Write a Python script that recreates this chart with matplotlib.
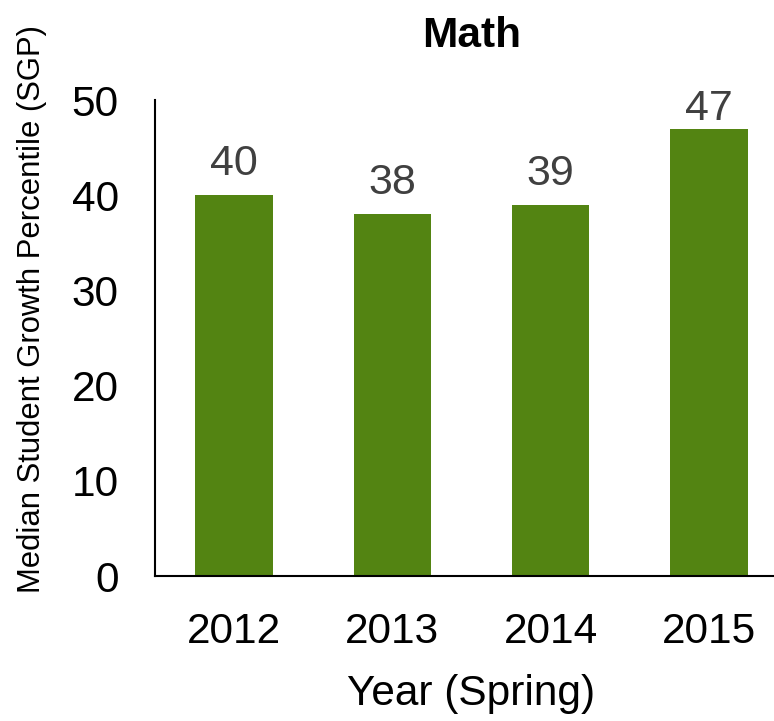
import matplotlib.pyplot as plt

plt.rcParams['font.family'] = ['Liberation Sans', 'DejaVu Sans']

years = ['2012', '2013', '2014', '2015']
sgp = [40, 38, 39, 47]

fig = plt.figure(figsize=(7.74, 7.21), dpi=100)
ax = fig.add_axes([155 / 774, 145 / 721, 633 / 774, 476 / 721])

x = range(len(years))
bars = ax.bar(x, sgp, width=0.49, color='#538412')

ymax = 50
for i, v in enumerate(sgp):
    if v > ymax - 6:
        # label would leave the plot area, keep it inside like Excel does
        ax.annotate(str(v), (i, ymax), xytext=(0, 8), textcoords='offset points',
                    ha='center', va='top', fontsize=31, color='#404040')
    else:
        ax.annotate(str(v), (i, v), xytext=(0, 8), textcoords='offset points',
                    ha='center', va='bottom', fontsize=31, color='#404040')

ax.set_xlim(-0.5, 3.5)
ax.set_ylim(0, ymax)
ax.set_yticks([0, 10, 20, 30, 40, 50])
ax.set_xticks(list(x))
ax.set_xticklabels(years)
ax.tick_params(axis='both', length=0, labelsize=30.5)
ax.tick_params(axis='y', pad=26)
ax.tick_params(axis='x', pad=26)

ax.spines['top'].set_visible(False)
ax.spines['right'].set_visible(False)
ax.spines['left'].set_linewidth(1.5)
ax.spines['bottom'].set_linewidth(1.5)

ax.set_title('Math', fontsize=30.5, fontweight='bold', pad=38)
ax.set_xlabel('Year (Spring)', fontsize=30.5, labelpad=16)
ax.set_ylabel('Median Student Growth Percentile (SGP)', fontsize=22.3)
ax.yaxis.set_label_coords(-0.17, 0.561)

fig.savefig('out.png', dpi=100)
